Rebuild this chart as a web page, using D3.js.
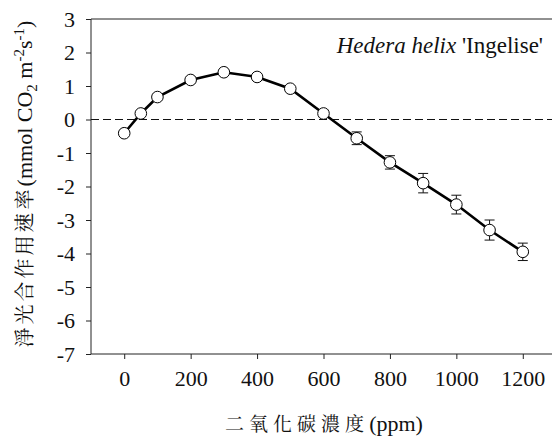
<!DOCTYPE html>
<html>
<head>
<meta charset="utf-8">
<script src="https://cdn.jsdelivr.net/npm/d3@7"></script>
</head>
<body style="margin:0;padding:0;background:#fff">
<svg id="chart" width="552" height="441" style="display:block"></svg>
<script>
// CO2 concentration (ppm) and net photosynthetic rate with standard errors
const co2 = [0, 50, 100, 200, 300, 400, 500, 600, 700, 800, 900, 1000, 1100, 1200];
const rate = [-0.41, 0.18, 0.67, 1.18, 1.41, 1.27, 0.92, 0.18, -0.56, -1.28, -1.90, -2.54, -3.30, -3.95];
const stdErr = [0.05, 0.05, 0.05, 0.05, 0.05, 0.05, 0.05, 0.1, 0.19, 0.2, 0.29, 0.28, 0.3, 0.26];
const xTicks = [0, 200, 400, 600, 800, 1000, 1200];
const yTicks = [3, 2, 1, 0, -1, -2, -3, -4, -5, -6, -7];

const SERIF = "Liberation Serif";
const CJK = "Noto Serif CJK TC";
const FS = 22;

const svg = d3.select("#chart");
const plotL = 91, plotR = 556, plotT = 19, plotB = 354;

const x = d3.scaleLinear().domain([-100, 1300]).range([plotL, plotR]);
const y = d3.scaleLinear().domain([-7, 3]).range([plotB, plotT]);

const axisColor = "#222";

// frame: top edge
svg.append("line").attr("x1", plotL).attr("x2", plotR).attr("y1", plotT).attr("y2", plotT)
  .attr("stroke", axisColor).attr("stroke-width", 1);

// y axis
const yAxis = svg.append("g").attr("transform", `translate(${plotL},0)`)
  .call(d3.axisLeft(y).tickValues(yTicks).tickSize(5).tickPadding(11).tickFormat(d3.format("d")));
yAxis.attr("font-family", SERIF).attr("font-size", FS);
yAxis.select(".domain").attr("stroke", axisColor).attr("d", `M0,${plotT}V${plotB}`);
yAxis.selectAll(".tick line").attr("stroke", axisColor);
yAxis.selectAll(".tick text").attr("font-family", SERIF).attr("font-size", FS).attr("fill", "#111")
  .text(d => d < 0 ? "-" + Math.abs(d) : d);

// x axis
const xAxis = svg.append("g").attr("transform", `translate(0,${plotB})`)
  .call(d3.axisBottom(x).tickValues(xTicks).tickSize(5).tickPadding(11).tickFormat(d3.format("d")));
xAxis.attr("font-family", SERIF).attr("font-size", FS);
xAxis.select(".domain").attr("stroke", axisColor).attr("d", `M${plotL},0H${plotR}`);
xAxis.selectAll(".tick line").attr("stroke", axisColor);
xAxis.selectAll(".tick text").attr("font-family", SERIF).attr("font-size", FS).attr("fill", "#111");

// zero reference line
svg.append("line")
  .attr("x1", plotL).attr("x2", plotR).attr("y1", y(0)).attr("y2", y(0))
  .attr("stroke", "#111").attr("stroke-width", 1).attr("stroke-dasharray", "8,4");

const pts = co2.map((c, i) => ({ c, r: rate[i], e: stdErr[i] }));

// error bars
const eb = svg.append("g").attr("stroke", "#111").attr("stroke-width", 1);
pts.forEach(p => {
  eb.append("line").attr("x1", x(p.c)).attr("x2", x(p.c)).attr("y1", y(p.r - p.e)).attr("y2", y(p.r + p.e));
  [p.r - p.e, p.r + p.e].forEach(v => {
    eb.append("line").attr("x1", x(p.c) - 5).attr("x2", x(p.c) + 5).attr("y1", y(v)).attr("y2", y(v));
  });
});

// connecting line
svg.append("path").datum(pts)
  .attr("fill", "none").attr("stroke", "#000").attr("stroke-width", 2.6)
  .attr("d", d3.line().x(d => x(d.c)).y(d => y(d.r)));

// markers
svg.append("g").selectAll("circle").data(pts).join("circle")
  .attr("cx", d => x(d.c)).attr("cy", d => y(d.r)).attr("r", 5.8)
  .attr("fill", "#fff").attr("stroke", "#000").attr("stroke-width", 1);

// species label
const title = svg.append("text").attr("x", 543).attr("y", 53).attr("text-anchor", "end")
  .attr("font-family", SERIF).attr("font-size", 23).attr("fill", "#111");
title.append("tspan").attr("font-style", "italic").text("Hedera helix");
title.append("tspan").text(" 'Ingelise'");

// x axis title
const xt = svg.append("text").attr("x", 324).attr("y", 431).attr("text-anchor", "middle")
  .attr("font-family", SERIF).attr("font-size", FS).attr("fill", "#111");
xt.append("tspan").attr("font-family", CJK).attr("font-size", 19).attr("letter-spacing", 5).text("二氧化碳濃度");
xt.append("tspan").text("(ppm)");

// y axis title
const yt = svg.append("text").attr("transform", "translate(32,184) rotate(-90)")
  .attr("text-anchor", "middle").attr("font-family", SERIF).attr("font-size", FS).attr("fill", "#111");
yt.append("tspan").attr("font-family", CJK).attr("font-size", 20).attr("letter-spacing", 3).text("淨光合作用速率");
yt.append("tspan").text("(mmol CO");
yt.append("tspan").attr("font-size", 15).attr("dy", 5).text("2");
yt.append("tspan").attr("dy", -5).text(" m");
yt.append("tspan").attr("font-size", 15).attr("dy", -8).text("-2");
yt.append("tspan").attr("dy", 8).text("s");
yt.append("tspan").attr("font-size", 15).attr("dy", -8).text("-1");
yt.append("tspan").attr("dy", 8).text(")");
</script>
</body>
</html>
